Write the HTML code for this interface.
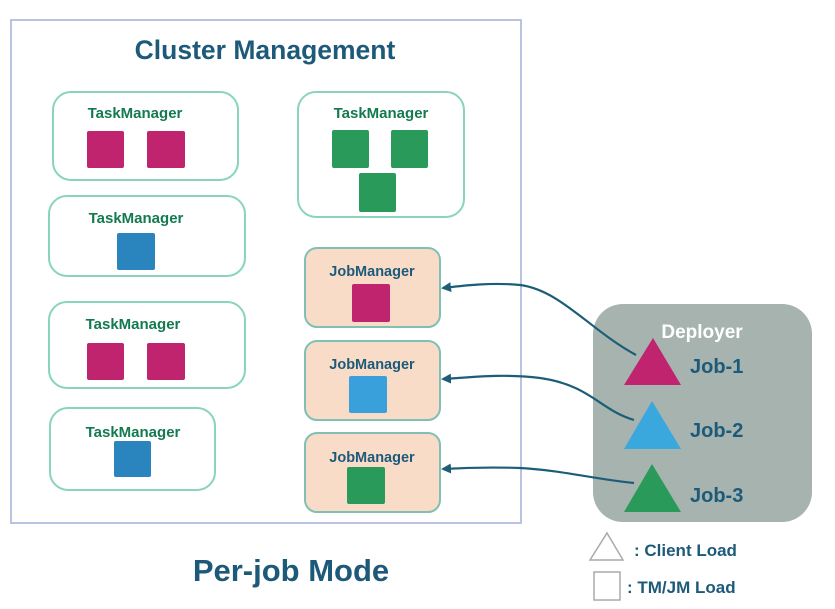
<!DOCTYPE html>
<html><head><style>body{margin:0;background:#fff}svg{display:block}text{font-family:"Liberation Sans",sans-serif;font-weight:bold}</style></head><body>
<svg width="835" height="609" viewBox="0 0 835 609">
<defs><marker id="a" markerWidth="10" markerHeight="10" refX="8" refY="5" orient="auto" markerUnits="userSpaceOnUse"><path d="M0,0 L10,5 L0,10 Z" fill="#1c5e78"/></marker></defs>
<rect x="11" y="20" width="510" height="503" fill="#fff" stroke="#b9c3e2" stroke-width="2"/>
<text x="265" y="59" font-size="26.5" fill="#1d5a7a" text-anchor="middle">Cluster Management</text>
<g fill="#fff" stroke="#88d4bd" stroke-width="2">
<rect x="53" y="92" width="185" height="88" rx="18"/>
<rect x="49" y="196" width="196" height="80" rx="18"/>
<rect x="49" y="302" width="196" height="86" rx="18"/>
<rect x="50" y="408" width="165" height="82" rx="18"/>
<rect x="298" y="92" width="166" height="125" rx="18"/>
</g>
<g fill="#f9dcc8" stroke="#80bfb4" stroke-width="2">
<rect x="305" y="248" width="135" height="79" rx="12"/>
<rect x="305" y="341" width="135" height="79" rx="12"/>
<rect x="305" y="433" width="135" height="79" rx="12"/>
</g>
<g font-size="15" fill="#137a50" text-anchor="middle">
<text x="135" y="118">TaskManager</text>
<text x="136" y="223">TaskManager</text>
<text x="133" y="329">TaskManager</text>
<text x="133" y="437">TaskManager</text>
<text x="381" y="118">TaskManager</text>
</g>
<g font-size="14.5" fill="#1d5a7a" text-anchor="middle">
<text x="372" y="276">JobManager</text>
<text x="372" y="369">JobManager</text>
<text x="372" y="462">JobManager</text>
</g>
<g fill="#c0246e">
<rect x="87" y="131" width="37" height="37" rx="2"/><rect x="147" y="131" width="38" height="37" rx="2"/>
<rect x="87" y="343" width="37" height="37" rx="2"/><rect x="147" y="343" width="38" height="37" rx="2"/>
<rect x="352" y="284" width="38" height="38" rx="2"/>
</g>
<g fill="#2a85bf"><rect x="117" y="233" width="38" height="37" rx="2"/><rect x="114" y="441" width="37" height="36" rx="2"/></g>
<rect x="349" y="376" width="38" height="37" rx="2" fill="#3aa0dc"/>
<g fill="#2a9a5a">
<rect x="332" y="130" width="37" height="38" rx="2"/><rect x="391" y="130" width="37" height="38" rx="2"/>
<rect x="359" y="173" width="37" height="39" rx="2"/><rect x="347" y="467" width="38" height="37" rx="2"/>
</g>
<rect x="593" y="304" width="219" height="218" rx="30" fill="#a6b3ae"/>
<text x="702" y="338" font-size="19" fill="#fff" text-anchor="middle">Deployer</text>
<g fill="none" stroke="#1c5e78" stroke-width="2.2" marker-end="url(#a)">
<path d="M636,355 C590,330 560,290 520,285 C490,282 460,286 443,288"/>
<path d="M634,420 C600,410 590,385 540,378 C500,373 465,378 443,379"/>
<path d="M634,483 C600,480 560,470 520,468 C490,467 460,468 443,469"/>
</g>
<polygon points="653,338 681,385 624,385" fill="#c0246e"/>
<polygon points="652,401 681,449 624,449" fill="#3aa7dd"/>
<polygon points="652,464 681,512 624,512" fill="#2a9a5a"/>
<g font-size="20" fill="#1d5a7a">
<text x="690" y="373">Job-1</text>
<text x="690" y="437">Job-2</text>
<text x="690" y="502">Job-3</text>
</g>
<polygon points="607,533 623,560 590,560" fill="#fff" stroke="#aaa" stroke-width="1.5"/>
<rect x="594" y="572" width="26" height="28" fill="#fff" stroke="#aaa" stroke-width="1.5"/>
<text x="634" y="556" font-size="17" fill="#1d5a7a">: Client Load</text>
<text x="627" y="593" font-size="17" fill="#1d5a7a">: TM/JM Load</text>
<text x="291" y="581" font-size="31" fill="#1d5a7a" text-anchor="middle">Per-job Mode</text>
</svg>
</body></html>
